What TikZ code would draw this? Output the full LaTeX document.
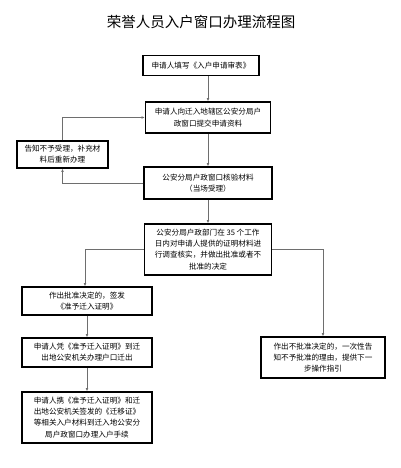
\documentclass[tikz,border=0pt]{standalone}
\usepackage{fontspec}
\newfontfamily\cjk{Noto Sans CJK SC}
\usetikzlibrary{positioning, arrows.meta, calc}
\definecolor{ink}{HTML}{000000}
\definecolor{wire}{HTML}{6e6e6e}

\begin{document}
\begin{tikzpicture}[
  x=1pt, y=-1pt,
  font=\cjk,
  stepbox/.style={draw=ink, line width=1.5pt, fill=white, align=center, inner sep=2pt, font=\cjk\fontsize{7.6}{11.2}\selectfont},
  arr/.style={-{Latex[length=3.2pt, width=2.8pt]}, line width=0.7pt, wire},
  link/.style={line width=0.7pt, wire}
]
  \useasboundingbox (0,0) rectangle (400,468);

  % Title
  \node[font=\cjk\fontsize{14.5}{16}\selectfont] (title) at (201,22) {荣誉人员入户窗口办理流程图};

  % Main column — application and check
  \node[stepbox, minimum width=116pt, minimum height=20pt] (fill) at (201,65.5) {申请人填写《入户申请审表》};
  \node[stepbox, minimum width=125pt, minimum height=31pt] (submit) at (208,117.5) {申请人向迁入地辖区公安分局户\\政窗口提交申请资料};
  \node[stepbox, minimum width=128pt, minimum height=32pt] (check) at (208,183) {公安分局户政窗口核验材料\\（当场受理）};
  \node[stepbox, minimum width=127pt, minimum height=51pt] (review) at (208,249.5) {公安分局户政部门在 35 个工作\\日内对申请人提供的证明材料进\\行调查核实，并做出批准或者不\\批准的决定};

  % Side — rejected at the window
  \node[stepbox, minimum width=91pt, minimum height=27pt] (refuse) at (62.5,154.5) {告知不予受理，补充材\\料后重新办理};

  % Left column — approved
  \node[stepbox, minimum width=130pt, minimum height=28pt] (approve) at (87,301) {作出批准决定的，签发\\《准予迁入证明》};
  \node[stepbox, minimum width=130pt, minimum height=29pt] (moveout) at (87,352.5) {申请人凭《准予迁入证明》到迁\\出地公安机关办理户口迁出};
  \node[stepbox, minimum width=130pt, minimum height=51pt] (register) at (87,417.5) {申请人携《准予迁入证明》和迁\\出地公安机关签发的《迁移证》\\等相关入户材料到迁入地公安分\\局户政窗口办理入户手续};

  % Right — not approved
  \node[stepbox, minimum width=124pt, minimum height=41pt] (deny) at (323,357.5) {作出不批准决定的，一次性告\\知不予批准的理由，提供下一\\步操作指引};

  % arrows
  \draw[arr] (fill.south -| submit) -- (submit);
  \draw[arr] (submit) -- (check);
  \draw[arr] (check) -- (review);
  \draw[arr] (check.west) -| (refuse.south);
  \draw[arr] (refuse.north) |- (submit.west);
  \draw[arr] (review.west) -| (approve.north -| 85,0);
  \draw[arr] (review.east) -| (deny.north);
  \draw[arr] (approve) -- (moveout);
  \draw[arr] (moveout) -- (register);
\end{tikzpicture}
\end{document}
